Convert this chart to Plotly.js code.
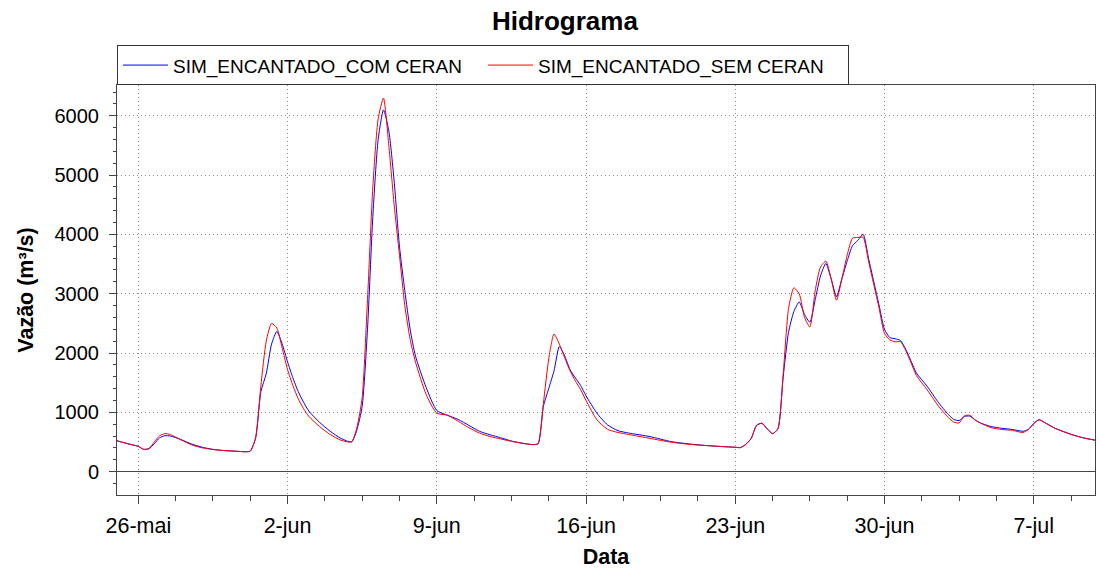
<!DOCTYPE html>
<html>
<head>
<meta charset="utf-8">
<script src="https://cdn.plot.ly/plotly-3.0.1.min.js"></script>
<style>html,body{margin:0;padding:0;background:#fff;}#chart{width:1100px;height:571px;}</style>
</head>
<body>
<div id="chart"></div>
<script>
// Time stamps (shared by both series)
const times = [
 '2025-05-25 00:00','2025-05-25 12:00','2025-05-26 00:00','2025-05-26 06:00','2025-05-26 12:00','2025-05-26 18:00',
 '2025-05-27 00:00','2025-05-27 06:00','2025-05-27 12:00','2025-05-28 00:00','2025-05-28 12:00','2025-05-29 00:00',
 '2025-05-29 12:00','2025-05-30 00:00','2025-05-30 12:00','2025-05-31 00:00','2025-05-31 06:00','2025-05-31 12:00',
 '2025-05-31 18:00','2025-06-01 00:00','2025-06-01 06:00','2025-06-01 12:00','2025-06-01 18:00','2025-06-02 00:00',
 '2025-06-02 06:00','2025-06-02 12:00','2025-06-02 18:00','2025-06-03 00:00','2025-06-03 12:00','2025-06-04 00:00',
 '2025-06-04 12:00','2025-06-05 00:00','2025-06-05 06:00','2025-06-05 12:00','2025-06-05 18:00','2025-06-06 00:00',
 '2025-06-06 06:00','2025-06-06 12:00','2025-06-06 18:00','2025-06-07 00:00','2025-06-07 06:00','2025-06-07 12:00',
 '2025-06-07 18:00','2025-06-08 00:00','2025-06-08 12:00','2025-06-09 00:00','2025-06-09 12:00','2025-06-10 00:00',
 '2025-06-10 12:00','2025-06-11 00:00','2025-06-11 12:00','2025-06-12 00:00','2025-06-12 12:00','2025-06-13 00:00',
 '2025-06-13 12:00','2025-06-13 18:00','2025-06-14 00:00','2025-06-14 06:00','2025-06-14 12:00','2025-06-14 18:00',
 '2025-06-15 00:00','2025-06-15 06:00','2025-06-15 12:00','2025-06-15 18:00','2025-06-16 00:00','2025-06-16 12:00',
 '2025-06-17 00:00','2025-06-17 12:00','2025-06-18 00:00','2025-06-19 00:00','2025-06-20 00:00','2025-06-21 00:00',
 '2025-06-22 00:00','2025-06-23 00:00','2025-06-23 06:00','2025-06-23 12:00','2025-06-23 18:00','2025-06-24 00:00',
 '2025-06-24 06:00','2025-06-24 12:00','2025-06-24 18:00','2025-06-25 00:00','2025-06-25 06:00','2025-06-25 12:00',
 '2025-06-25 18:00','2025-06-26 00:00','2025-06-26 06:00','2025-06-26 12:00','2025-06-26 18:00','2025-06-27 00:00',
 '2025-06-27 06:00','2025-06-27 12:00','2025-06-27 18:00','2025-06-28 00:00','2025-06-28 06:00','2025-06-28 12:00',
 '2025-06-28 18:00','2025-06-29 00:00','2025-06-29 06:00','2025-06-29 12:00','2025-06-29 18:00','2025-06-30 00:00',
 '2025-06-30 06:00','2025-06-30 12:00','2025-06-30 18:00','2025-07-01 00:00','2025-07-01 06:00','2025-07-01 12:00',
 '2025-07-02 00:00','2025-07-02 12:00','2025-07-03 00:00','2025-07-03 06:00','2025-07-03 12:00','2025-07-03 18:00',
 '2025-07-04 00:00','2025-07-04 06:00','2025-07-04 12:00','2025-07-05 00:00','2025-07-05 12:00','2025-07-06 00:00',
 '2025-07-06 12:00','2025-07-06 18:00','2025-07-07 00:00','2025-07-07 06:00','2025-07-07 12:00','2025-07-08 00:00',
 '2025-07-08 12:00','2025-07-09 00:00','2025-07-09 12:00','2025-07-09 21:00'
];

// SIM_ENCANTADO_COM CERAN (m3/s)
const comCeran = [
 520,470,425,375,385,470,
 570,605,600,540,465,410,
 375,355,345,335,345,560,
 1350,1650,2150,2365,2150,1850,
 1580,1350,1170,1020,830,680,
 560,500,700,1100,2400,4300,
 5600,6100,5750,4900,3800,3050,
 2400,1950,1420,1030,950,880,
 780,680,620,570,515,480,
 455,470,1100,1400,1700,2110,
 1950,1720,1580,1450,1280,990,
 790,690,650,590,505,460,
 430,410,405,460,560,780,
 815,720,640,720,1600,2350,
 2700,2860,2650,2520,2900,3300,
 3510,3250,2950,3250,3550,3810,
 3900,4000,3600,3200,2800,2400,
 2260,2240,2210,2060,1860,1660,
 1440,1180,960,880,860,930,
 935,870,820,760,730,710,
 680,710,810,874,830,730,
 660,600,555,530
];

// SIM_ENCANTADO_SEM CERAN (m3/s)
const semCeran = [
 520,470,425,375,390,500,
 605,640,625,535,450,400,
 372,355,345,335,345,570,
 1450,2200,2500,2420,2080,1720,
 1450,1230,1060,930,760,625,
 530,500,740,1250,2900,4800,
 5950,6300,5500,4500,3650,2800,
 2230,1850,1300,985,950,850,
 740,650,590,550,510,478,
 455,470,1150,1900,2320,2150,
 1920,1700,1530,1380,1200,880,
 715,660,625,560,495,455,
 430,410,405,460,560,780,
 815,720,640,720,1650,2750,
 3100,3000,2600,2440,3050,3450,
 3550,3250,2890,3250,3650,3935,
 3950,3950,3550,3150,2750,2330,
 2220,2190,2190,2040,1830,1620,
 1380,1120,910,835,820,940,
 950,870,820,740,710,695,
 660,710,810,874,830,730,
 660,600,555,530
];

const seriesNames = ['SIM_ENCANTADO_COM CERAN', 'SIM_ENCANTADO_SEM CERAN'];
const xTickVals = ['2025-05-26','2025-06-02','2025-06-09','2025-06-16','2025-06-23','2025-06-30','2025-07-07'];
const xTickText = ['26-mai','2-jun','9-jun','16-jun','23-jun','30-jun','7-jul'];
const yTickVals = [0,1000,2000,3000,4000,5000,6000];

const FONT = 'Liberation Sans, Arial, sans-serif';
const axisColor = '#444444';
const gridColor = '#8c8c8c';
const xRange = ['2025-05-25 00:00','2025-07-09 21:00'];
const yRange = [-395, 6520];
const DAY = 86400000;

const traces = [
  {x: times, y: comCeran, name: seriesNames[0], type: 'scatter', mode: 'lines',
   line: {color: '#0000ff', width: 1, shape: 'spline', smoothing: 0.6}},
  {x: times, y: semCeran, name: seriesNames[1], type: 'scatter', mode: 'lines',
   line: {color: '#ff0000', width: 1, shape: 'spline', smoothing: 0.6}}
];

const layout = {
  width: 1100, height: 571,
  margin: {l: 117, r: 5, t: 85, b: 76},
  paper_bgcolor: '#ffffff', plot_bgcolor: '#ffffff',
  font: {family: FONT, color: '#000000'},
  title: {text: '<b>Hidrograma</b>', font: {family: FONT, size: 26, color: '#000'},
          x: 0.5136, xref: 'container', xanchor: 'center', y: 0.963, yanchor: 'middle', yref: 'container'},
  showlegend: true,
  legend: {orientation: 'h', x: 0.0, xanchor: 'left', y: 1.097, yanchor: 'top',
           bordercolor: '#333333', borderwidth: 1, bgcolor: '#ffffff',
           font: {family: FONT, size: 19, color: '#000'}, itemwidth: 45,
           entrywidth: 305, entrywidthmode: 'pixels', tracegroupgap: 0},
  xaxis: {
    type: 'date', range: xRange, autorange: false,
    tickmode: 'array', tickvals: xTickVals, ticktext: xTickText,
    ticks: 'outside', ticklen: 8, tickwidth: 1, tickcolor: axisColor,
    minor: {dtick: 1.75 * DAY, tick0: '2025-05-26', ticks: 'outside', ticklen: 5, tickcolor: axisColor, showgrid: false},
    showline: true, linecolor: axisColor, linewidth: 1, mirror: true,
    showgrid: true, gridcolor: gridColor, griddash: '1px,3px', gridwidth: 1,
    zeroline: false,
    tickfont: {family: FONT, size: 21.5, color: '#000'},
    ticklabelstandoff: 3,
    title: {text: '<b>Data</b>', font: {family: FONT, size: 21.5, color: '#000'}, standoff: 12},
    automargin: false
  },
  xaxis2: {
    type: 'date', range: xRange, autorange: false, overlaying: 'x', anchor: 'y', side: 'bottom',
    tickmode: 'array', tickvals: xTickVals, ticktext: xTickText, showticklabels: false,
    ticks: 'inside', ticklen: 7, tickwidth: 1, tickcolor: axisColor, mirror: 'ticks',
    minor: {dtick: 1.75 * DAY, tick0: '2025-05-26', ticks: 'inside', ticklen: 4, tickcolor: axisColor, showgrid: false},
    showline: false, showgrid: false, zeroline: false, automargin: false
  },
  yaxis: {
    range: yRange, autorange: false,
    tickmode: 'array', tickvals: yTickVals,
    ticks: 'outside', ticklen: 7, tickwidth: 1, tickcolor: axisColor,
    minor: {dtick: 200, tick0: 0, ticks: 'outside', ticklen: 3, tickcolor: axisColor, showgrid: false},
    showline: true, linecolor: axisColor, linewidth: 1, mirror: true,
    showgrid: true, gridcolor: gridColor, griddash: '1px,3px', gridwidth: 1,
    zeroline: true, zerolinecolor: '#444444', zerolinewidth: 1.5,
    tickfont: {family: FONT, size: 20, color: '#000'},
    ticklabelstandoff: 6,
    title: {text: '<b>Vazão (m³/s)</b>', font: {family: FONT, size: 21.5, color: '#000'}, standoff: 14},
    automargin: false
  },
  yaxis2: {
    range: yRange, autorange: false, overlaying: 'y', anchor: 'x', side: 'left',
    tickmode: 'array', tickvals: yTickVals, showticklabels: false,
    ticks: 'inside', ticklen: 9, tickwidth: 1, tickcolor: axisColor, mirror: 'ticks',
    minor: {dtick: 200, tick0: 0, ticks: 'inside', ticklen: 5, tickcolor: axisColor, showgrid: false},
    showline: false, showgrid: false, zeroline: false, automargin: false
  }
};

Plotly.newPlot('chart', traces, layout, {displayModeBar: false, staticPlot: true});
</script>
</body>
</html>
